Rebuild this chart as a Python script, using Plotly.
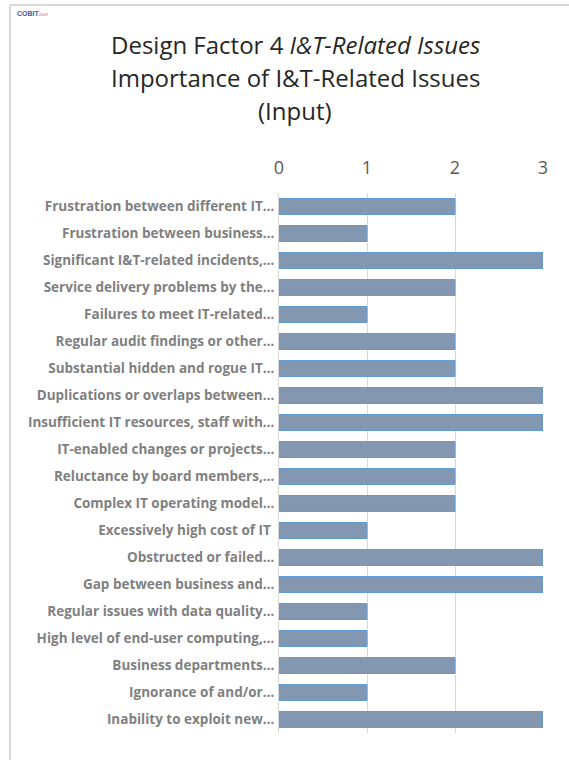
import plotly.graph_objects as go

# Design Factor 4: importance rating of each I&T-related issue (0-3)
issues = [
    "Frustration between different IT…",
    "Frustration between business…",
    "Significant I&T-related incidents,…",
    "Service delivery problems by the…",
    "Failures to meet IT-related…",
    "Regular audit findings or other…",
    "Substantial hidden and rogue IT…",
    "Duplications or overlaps between…",
    "Insufficient IT resources, staff with…",
    "IT-enabled changes or projects…",
    "Reluctance by board members,…",
    "Complex IT operating model…",
    "Excessively high cost of IT ",
    "Obstructed or failed…",
    "Gap between business and…",
    "Regular issues with data quality…",
    "High level of end-user computing,…",
    "Business departments…",
    "Ignorance of and/or…",
    "Inability to exploit new…",
]
importance = [2, 1, 3, 2, 1, 2, 2, 3, 3, 2, 2, 2, 1, 3, 3, 1, 1, 2, 1, 3]
x_ticks = [0, 1, 2, 3]

W, H = 569, 760
ML, MR, MT, MB = 279, 26, 193, 27
PW, PH = W - ML - MR, H - MT - MB


def px(x):
    return (x - ML) / PW


def py(y):
    return 1 - (y - MT) / PH


fig = go.Figure(
    go.Bar(
        x=importance,
        y=issues,
        orientation="h",
        marker=dict(color="#8497B0", line=dict(color="#5B9BD5", width=1)),
        hoverinfo="x+y",
    )
)

fig.update_layout(
    width=W,
    height=H,
    margin=dict(l=ML, r=MR, t=MT, b=MB, autoexpand=False),
    paper_bgcolor="white",
    plot_bgcolor="white",
    bargap=0.41,
    showlegend=False,
    font=dict(family="Open Sans, sans-serif", color="#595959"),
)

fig.update_xaxes(
    side="top",
    range=[0, 3.0],
    tickvals=x_ticks,
    ticktext=[str(v) for v in x_ticks],
    tickfont=dict(size=18, color="#595959"),
    showgrid=True,
    gridcolor="#D9D9D9",
    gridwidth=1,
    zeroline=False,
    showline=False,
    ticks="",
    ticklabelstandoff=14,
    fixedrange=True,
)
fig.update_yaxes(
    type="category",
    categoryorder="array",
    categoryarray=issues,
    autorange="reversed",
    tickfont=dict(size=13.5, color="#7F7F7F", family="Open Sans, sans-serif", weight="bold"),
    showline=True,
    linecolor="#D9D9D9",
    linewidth=1,
    ticks="",
    ticklabelstandoff=1,
    fixedrange=True,
)

# chart frame (left and top edges)
fig.add_shape(type="line", xref="paper", yref="paper",
              x0=px(10), x1=px(10), y0=py(5), y1=py(H + 5),
              line=dict(color="#D9D9D9", width=2))
fig.add_shape(type="line", xref="paper", yref="paper",
              x0=px(10), x1=px(W + 5), y0=py(5), y1=py(5),
              line=dict(color="#D9D9D9", width=2))

# title block
title_lines = [
    ("Design Factor 4 <i>I&amp;T-Related Issues</i>", 44),
    ("Importance of I&amp;T-Related Issues", 77),
    ("(Input)", 110),
]
for text, yc in title_lines:
    fig.add_annotation(
        text=text, xref="paper", yref="paper",
        x=px(295), y=py(yc), xanchor="center", yanchor="middle",
        showarrow=False, font=dict(size=24, color="#262626"),
    )

# small logo mark
fig.add_annotation(
    text="<b>COBIT</b><span style='font-size:4px;color:#C0504D'>2019</span>",
    xref="paper", yref="paper", x=px(15), y=py(13),
    xanchor="left", yanchor="middle", showarrow=False,
    font=dict(size=7, color="#3A5AA8", family="Liberation Sans, sans-serif"),
)

fig.write_html("out.html")
